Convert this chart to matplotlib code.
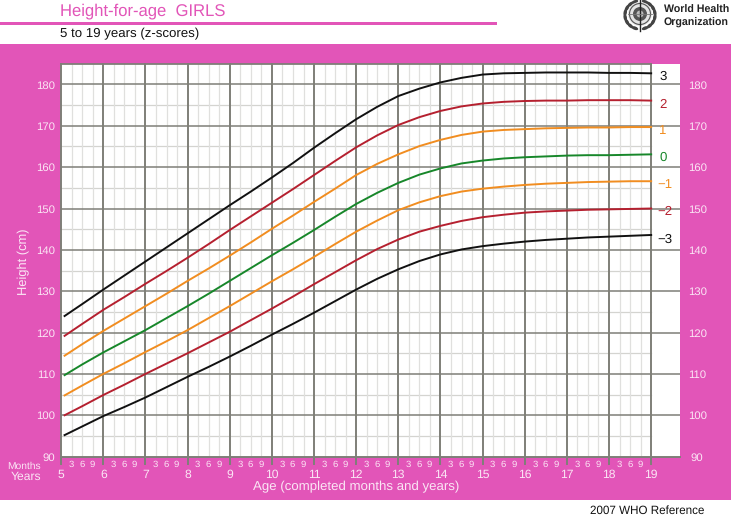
import matplotlib
matplotlib.use('Agg')
import matplotlib.pyplot as plt
import numpy as np
from matplotlib.patches import Rectangle, Circle, Ellipse

plt.rcParams['font.family'] = ['Liberation Sans', 'DejaVu Sans']
plt.rcParams['text.hinting'] = 'no_hinting'

# age in years, then the z-score curves
ages = [5.08, 5.5, 6, 6.5, 7, 7.5, 8, 8.5, 9, 9.5, 10, 10.5, 11, 11.5, 12, 12.5,
        13, 13.5, 14, 14.5, 15, 15.5, 16, 16.5, 17, 17.5, 18, 18.5, 19]
z_p3 = [124.0, 126.9, 130.4, 133.8, 137.2, 140.6, 144.0, 147.4, 150.8, 154.1, 157.5, 161.0,
        164.7, 168.2, 171.6, 174.6, 177.2, 179.0, 180.5, 181.6, 182.4, 182.7, 182.8, 182.9,
        182.9, 182.9, 182.8, 182.8, 182.7]
z_p2 = [119.2, 122.1, 125.5, 128.6, 131.8, 134.9, 138.1, 141.4, 144.8, 148.1, 151.4, 154.7,
        158.1, 161.5, 164.8, 167.7, 170.2, 172.1, 173.6, 174.7, 175.4, 175.8, 176.0, 176.1,
        176.1, 176.2, 176.2, 176.2, 176.1]
z_p1 = [114.4, 117.2, 120.4, 123.4, 126.4, 129.4, 132.5, 135.5, 138.6, 141.8, 145.1, 148.3,
        151.6, 154.8, 158.1, 160.8, 163.1, 165.1, 166.6, 167.8, 168.6, 169.0, 169.2, 169.4,
        169.5, 169.6, 169.6, 169.7, 169.7]
z_0 = [109.7, 112.3, 115.2, 117.9, 120.6, 123.5, 126.4, 129.4, 132.5, 135.6, 138.7, 141.7,
       144.8, 148.0, 151.1, 153.8, 156.2, 158.2, 159.7, 160.9, 161.6, 162.1, 162.4, 162.6,
       162.8, 162.9, 162.9, 163.0, 163.1]
z_m1 = [104.8, 107.2, 110.0, 112.6, 115.3, 117.9, 120.6, 123.5, 126.4, 129.4, 132.4, 135.3,
        138.3, 141.4, 144.4, 147.1, 149.6, 151.5, 153.0, 154.1, 154.8, 155.3, 155.7, 156.0,
        156.2, 156.4, 156.5, 156.6, 156.6]
z_m2 = [100.0, 102.2, 104.9, 107.4, 110.0, 112.5, 115.0, 117.6, 120.2, 123.0, 125.8, 128.7,
        131.7, 134.6, 137.5, 140.2, 142.5, 144.4, 145.8, 147.0, 147.9, 148.5, 149.0, 149.3,
        149.5, 149.7, 149.8, 149.9, 150.0]
z_m3 = [95.2, 97.3, 99.8, 102.0, 104.3, 106.8, 109.3, 111.7, 114.2, 116.8, 119.5, 122.1,
        124.8, 127.6, 130.4, 133.0, 135.3, 137.3, 138.9, 140.1, 140.9, 141.5, 142.0, 142.4,
        142.7, 143.0, 143.2, 143.4, 143.6]
curve_labels = ['3', '2', '1', '0', '\u22121', '\u22122', '\u22123']
years = list(range(5, 20))
heights = list(range(90, 190, 10))

W, H = 731, 515
PINK = '#e255b8'
LIGHT = '#fbe6f5'
MAJOR = '#7f7f78'
BLACK, RED, ORANGE, GREEN = '#111111', '#b5202f', '#f18d20', '#17872a'
curves = [z_p3, z_p2, z_p1, z_0, z_m1, z_m2, z_m3]
colors = [BLACK, RED, ORANGE, GREEN, ORANGE, RED, BLACK]


def px_text(x, y, s, **kw):
    # va=center sits a little high for digits, so nudge down
    kw.setdefault('va', 'center')
    fig.text(x / W, 1 - (y + 1.2) / H, s, **kw)


fig = plt.figure(figsize=(W / 100, H / 100), dpi=100)
fig.add_artist(Rectangle((0, 1 - 500 / H), 1, 456 / H, transform=fig.transFigure,
                         facecolor=PINK, edgecolor='none', zorder=-2))
fig.add_artist(Rectangle((0, 1 - 24.5 / H), 497 / W, 2.5 / H, transform=fig.transFigure,
                         facecolor=PINK, edgecolor='none', zorder=-2))

# plot area runs from x=61 to x=681, y=456.6 to y=63.8
ax = fig.add_axes([61.2 / W, 1 - 456.6 / H, 619.3 / W, 392.8 / H])
ax.set_xlim(5, 19.696)
ax.set_ylim(90, 185)
ax.set_facecolor('white')
for s in ax.spines.values():
    s.set_visible(False)
ax.set_xticks([])
ax.set_yticks([])

# grid
for y in range(95, 185, 10):
    ax.plot([5, 19], [y, y], color='#d4d4d0', lw=0.9, zorder=1)
for y in years[:-1]:
    for m in (0.25, 0.5, 0.75):
        ax.plot([y + m, y + m], [90, 185], color='#e0e0de', lw=0.9, zorder=1)
for h in heights:
    if h == 90:
        continue
    ax.plot([5, 19.696], [h, h], color=MAJOR, lw=1.1, zorder=2)
ax.plot([5, 19], [185, 185], color=MAJOR, lw=1.3, zorder=2, clip_on=False)
ax.plot([5, 19.696], [90, 90], color=MAJOR, lw=1.4, zorder=2, clip_on=False)
for y in years:
    ax.plot([y, y], [88.3, 185], color=MAJOR, lw=1.4, zorder=2, clip_on=False)

for vals, c in zip(curves, colors):
    ax.plot(ages, vals, color=c, lw=1.4, zorder=3)

# z-score labels at the line ends
label_y = [75, 103, 129, 156, 183, 210, 238]
label_x = [663, 663, 663, 663, 665, 665, 665]
for s, c, lx, ly in zip(curve_labels, colors, label_x, label_y):
    px_text(lx, ly, s, color=c, fontsize=9.5, ha='center', zorder=5)

# height tick labels on both sides
for h in heights:
    py = 456.6 - (h - 90) * 4.135
    px_text(55, py, str(h), color=LIGHT, fontsize=8.2, ha='right')
    px_text(688 if h > 90 else 690, py, str(h), color=LIGHT, fontsize=8.2, ha='left')

# age axis labels
for y in years:
    px = 61.2 + (y - 5) * 42.14
    px_text(px, 474, str(y), color=LIGHT, fontsize=8.7, ha='center')
    if y < 19:
        for m, t in ((0.25, '3'), (0.5, '6'), (0.75, '9')):
            px_text(px + (m - 0.01) * 42.14, 463, t, color=LIGHT, fontsize=6.8, ha='center')

px_text(41, 465, 'Months', color=LIGHT, fontsize=7.4, ha='right')
px_text(41, 476, 'Years', color=LIGHT, fontsize=8.7, ha='right')
px_text(356, 486, 'Age (completed months and years)', color=LIGHT, fontsize=9.5, ha='center')
px_text(24, 260.5, 'Height (cm)', color=LIGHT, fontsize=9.3, ha='center', rotation=90)

px_text(60, 9.5, 'Height-for-age  GIRLS', color=PINK, fontsize=12.0, ha='left')
px_text(60, 32.5, '5 to 19 years (z-scores)', color='#111111', fontsize=9.5, ha='left')
px_text(704, 509.5, '2007 WHO Reference', color='#111111', fontsize=8.4, ha='right')

# WHO emblem and name, drawn in pixel coordinates
logo = fig.add_axes([0, 0, 1, 1], facecolor='none')
logo.set_xlim(0, W)
logo.set_ylim(H, 0)
logo.axis('off')
for side in (-1, 1):
    for ang in np.arange(-70, 75, 20):
        a = np.radians(ang)
        logo.add_patch(Ellipse((640 + side * 15 * np.cos(a), 15 + 14 * np.sin(a)), 7, 3.4,
                               angle=side * (ang + 90), facecolor='#444444', edgecolor='none'))
logo.add_patch(Circle((640, 14), 12, facecolor='#e4e4e4', edgecolor='none'))
logo.add_patch(Circle((640, 14), 10.5, facecolor='none', edgecolor='#555555', lw=0.8))
logo.add_patch(Circle((640, 14), 7, facecolor='#555555', edgecolor='none'))
logo.add_patch(Circle((640, 14), 3.5, facecolor='#bbbbbb', edgecolor='none'))
logo.plot([640, 640], [0, 31], color='#222222', lw=1.0)
logo.plot([628, 652], [14, 14], color='#777777', lw=0.6)
px_text(664, 9, 'World Health', color='#222222', fontsize=7.7, fontweight='bold', ha='left')
px_text(664, 21.5, 'Organization', color='#222222', fontsize=7.7, fontweight='bold', ha='left')

fig.savefig('out.png', dpi=100)
